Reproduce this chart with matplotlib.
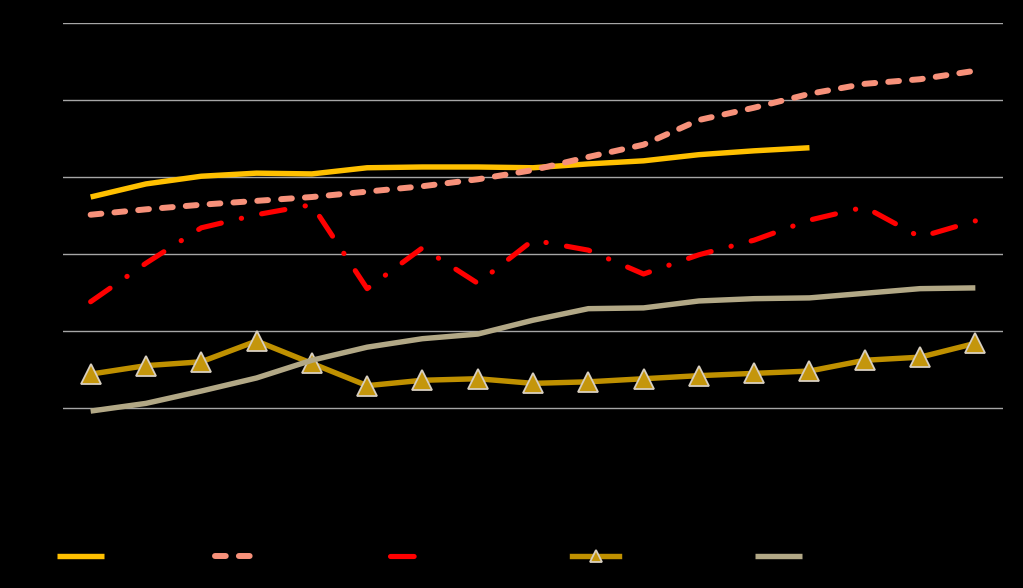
import numpy as np
import matplotlib
matplotlib.use("Agg")
import matplotlib.pyplot as plt

# 17 periods along the x axis (labels are black on black in the reference)
periods = [str(y) for y in range(2000, 2017)]

gold_line = [3.74, 3.91, 4.01, 4.05, 4.04, 4.12, 4.13, 4.13, 4.12, 4.17, 4.21, 4.29, 4.34, 4.38]
salmon_dash = [3.51, 3.58, 3.64, 3.69, 3.74, 3.81, 3.88, 3.97, 4.09, 4.26, 4.42, 4.74, 4.90, 5.08, 5.21, 5.27, 5.38]
red_dashdot = [2.38, 2.88, 3.34, 3.51, 3.64, 2.55, 3.08, 2.62, 3.18, 3.05, 2.74, 2.99, 3.18, 3.44, 3.61, 3.22, 3.43]
triangles = [1.44, 1.55, 1.60, 1.87, 1.58, 1.29, 1.36, 1.38, 1.32, 1.34, 1.38, 1.42, 1.45, 1.48, 1.62, 1.66, 1.84]
tan_line = [0.96, 1.06, 1.22, 1.39, 1.62, 1.79, 1.90, 1.96, 2.14, 2.29, 2.30, 2.39, 2.42, 2.43, 2.49, 2.55, 2.56]

names = ["Series one", "Series two", "Series three", "Series four", "Series five"]

fig = plt.figure(figsize=(10.23, 5.88), dpi=100, facecolor="black")
ax = fig.add_axes([63/1023, 1 - 485/588, 940/1023, 462/588], facecolor="black")

x = np.arange(len(periods))

lines = []
lines += ax.plot(x[:len(gold_line)], gold_line, color="#FFC000", lw=3.9, solid_capstyle="butt")
lines += ax.plot(x, salmon_dash, color="#F7917A", lw=4.3, dashes=(1.8, 2.2), dash_capstyle="round")
lines += ax.plot(x, red_dashdot, color="#FF0000", lw=3.7, dashes=(4.6, 4.0, 0.05, 4.0), dash_capstyle="round")
lines += ax.plot(x, triangles, color="#BF9000", lw=3.9, marker="^", ms=14, mfc="#C4960C", mec="#D8CFC0", mew=1.3)
lines += ax.plot(x, tan_line, color="#B2A886", lw=3.9, solid_capstyle="butt")

ax.set_xlim(-0.5, len(periods) - 0.5)
ax.set_ylim(0, 6)
ax.set_yticks([1, 2, 3, 4, 5, 6])
ax.set_xticks(x)
ax.set_xticklabels(periods, color="black")
ax.tick_params(axis="y", colors="black", length=0)
ax.tick_params(axis="x", colors="black", length=0)
ax.grid(axis="y", color="#A6A6A6", lw=1)
ax.set_axisbelow(True)
for s in ax.spines.values():
    s.set_visible(False)

# legend entries sit at fixed spots along the bottom
leg_x = [57, 215, 390, 572, 755]
leg_len = [3.4, 3.0, 1.7, 3.4, 3.4]
for h, name, lx, hl in zip(lines, names, leg_x, leg_len):
    leg = fig.legend(handles=[h], labels=[name], loc="center left",
                     bbox_to_anchor=(lx / 1023, 1 - 557 / 588), frameon=False,
                     borderpad=0, borderaxespad=0, handlelength=hl,
                     handletextpad=0.5, fontsize=10, markerscale=0.6)
    leg.get_texts()[0].set_color("black")

fig.savefig("out.png", dpi=100, facecolor="black")
